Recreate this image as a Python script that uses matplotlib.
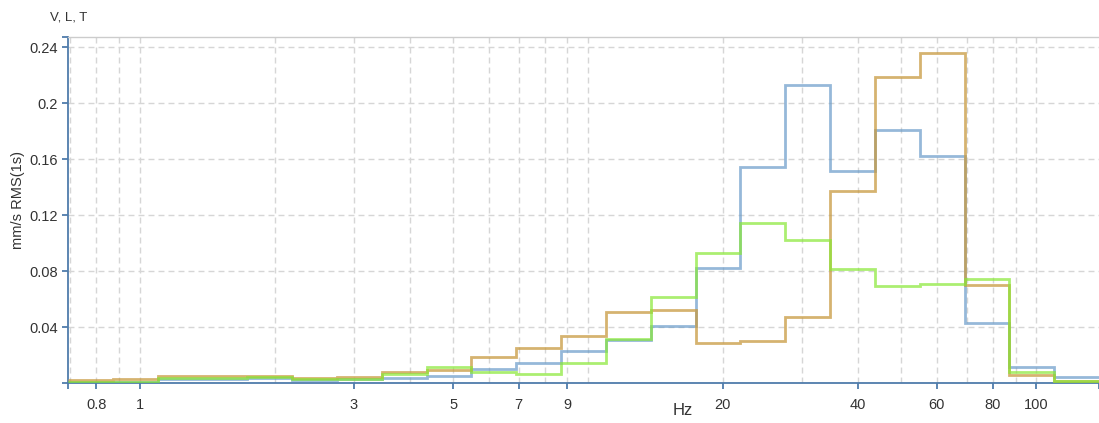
import numpy as np
import matplotlib
matplotlib.use("Agg")
import matplotlib.pyplot as plt

plt.rcParams['font.family'] = ['Liberation Sans', 'DejaVu Sans']

# third-octave band centres (Hz)
band_hz = [0.8, 1, 1.25, 1.6, 2, 2.5, 3.15, 4, 5, 6.3, 8, 10, 12.5, 16,
           20, 25, 31.5, 40, 50, 63, 80, 100, 125]

# RMS velocity per band, mm/s
rms_v = [0.0010, 0.0012, 0.0028, 0.0030, 0.0040, 0.0026, 0.0028, 0.0040,
         0.0055, 0.0103, 0.0143, 0.0233, 0.0310, 0.0407, 0.0821, 0.1546,
         0.2129, 0.1515, 0.1808, 0.1622, 0.0429, 0.0115, 0.0045]
rms_l = [0.0024, 0.0034, 0.0055, 0.0055, 0.0056, 0.0036, 0.0046, 0.0079,
         0.0097, 0.0186, 0.0253, 0.0338, 0.0507, 0.0526, 0.0290, 0.0302,
         0.0476, 0.1375, 0.2188, 0.2355, 0.0702, 0.0057, 0.0019]
rms_t = [0.0012, 0.0012, 0.0038, 0.0040, 0.0048, 0.0031, 0.0034, 0.0065,
         0.0115, 0.0079, 0.0065, 0.0148, 0.0317, 0.0614, 0.0928, 0.1142,
         0.1023, 0.0820, 0.0697, 0.0711, 0.0745, 0.0081, 0.0019]

x_ticks = [0.8, 1, 3, 5, 7, 9, 20, 40, 60, 80, 100]
y_ticks = [0.04, 0.08, 0.12, 0.16, 0.2, 0.24]

AXIS = '#4f7cab'
GRID = '#d6d6d6'
TXT = '#333333'

# band edges on the exact 1/10-decade grid
idx = np.round(10 * np.log10(band_hz))
edges = 10 ** ((np.append(idx, idx[-1] + 1) - 0.5) / 10 - 0.01)

W, H = 1099, 423
fig = plt.figure(figsize=(W / 100, H / 100), dpi=100)
ax = fig.add_axes([68 / W, (H - 383.4) / H, 1 - 68 / W, (383.4 - 37.3) / H])

ymax = 0.247
ax.set_xscale('log')
ax.set_xlim(edges[0], edges[-1])
ax.set_ylim(0, ymax)

# dashed grid
dash = (0, (4.3, 2.9))
grid_x = [0.7, 0.8, 0.9] + list(range(1, 10)) + list(range(10, 101, 10))
for gx in grid_x:
    ax.axvline(gx, color=GRID, lw=1.0, ls=dash, zorder=0)
for gy in [0] + y_ticks:
    ax.axhline(gy, color=GRID, lw=1.0, ls=dash, zorder=0)

ax.stairs(rms_v, edges, baseline=None, color='#6a9bc9', alpha=0.7, lw=2.0, zorder=2)
ax.stairs(rms_l, edges, baseline=None, color='#c89a40', alpha=0.75, lw=2.0, zorder=3)
ax.stairs(rms_t, edges, baseline=None, color='#88e835', alpha=0.7, lw=2.0, zorder=4)

ax.spines['right'].set_visible(False)
ax.spines['top'].set_color('#cccccc')
ax.spines['top'].set_linewidth(1.0)
for s in ['left', 'bottom']:
    ax.spines[s].set_color(AXIS)
    ax.spines[s].set_linewidth(1.3)

# ticks incl. the outer domain ticks at both ends
ax.set_yticks([0] + y_ticks + [ymax])
ax.set_yticklabels([''] + ['0.04', '0.08', '0.12', '0.16', '0.2', '0.24'] + [''])
ax.set_xticks([edges[0]] + x_ticks + [edges[-1]])
ax.set_xticklabels([''] + [f'{t:g}' for t in x_ticks] + [''])
ax.xaxis.set_minor_locator(matplotlib.ticker.NullLocator())
ax.tick_params(axis='both', which='major', length=4.5, width=1.3, color=AXIS,
               labelsize=10.5, labelcolor=TXT, direction='out')
ax.tick_params(axis='x', pad=6)
ax.tick_params(axis='y', pad=3)

fig.text(50 / W, 1 - 17 / H, 'V, L, T', fontsize=9.5, color=TXT, va='center', ha='left')
fig.text(18 / W, 1 - 200 / H, 'mm/s RMS(1s)', fontsize=10.5, color=TXT,
         rotation=90, va='center', ha='center')
fig.text(683 / W, 1 - 410 / H, 'Hz', fontsize=12, color=TXT, va='center', ha='center')

fig.savefig('out.png', dpi=100)
